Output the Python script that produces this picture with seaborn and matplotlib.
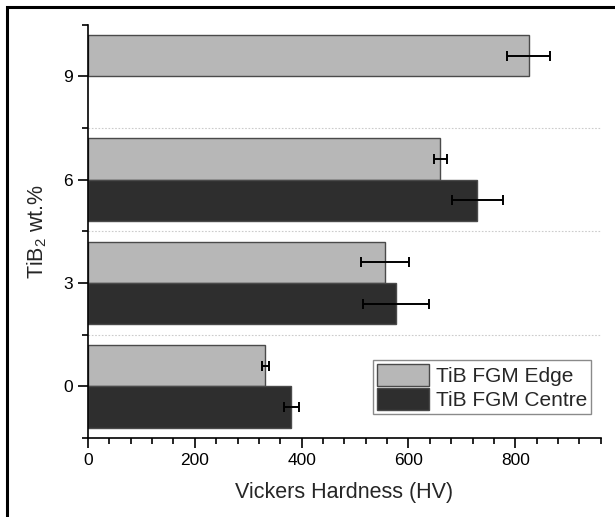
import numpy as np
import pandas as pd
import matplotlib
matplotlib.use("Agg")
import matplotlib.pyplot as plt
from matplotlib.patches import Patch, Rectangle
from matplotlib.ticker import MultipleLocator, FixedLocator
import seaborn as sns

# ---- data ----
categories = ["0", "3", "6", "9"]
edge_hv = [332, 556, 660, 825]
edge_err = [6, 45, 12, 40]
centre_hv = [381, 577, 729, np.nan]
centre_err = [14, 62, 48, np.nan]
series = ["TiB FGM Edge", "TiB FGM Centre"]
colors = ["#b7b7b7", "#2e2e2e"]

rows = []
for c, v, e in zip(categories, edge_hv, edge_err):
    rows.append({"wt": c, "HV": v, "err": e, "series": series[0]})
for c, v, e in zip(categories, centre_hv, centre_err):
    if not np.isnan(v):
        rows.append({"wt": c, "HV": v, "err": e, "series": series[1]})
df = pd.DataFrame(rows)
order = categories[::-1]

sns.set_style("ticks")
plt.rcParams["font.family"] = ["Liberation Sans", "DejaVu Sans"]
plt.rcParams["mathtext.fontset"] = "custom"
plt.rcParams["mathtext.rm"] = "Liberation Sans"

fig = plt.figure(figsize=(6.15, 5.17), dpi=100)
ax = fig.add_axes([88 / 615, 1 - 438 / 517, (600.7 - 88) / 615, (438 - 24.5) / 517])

sns.barplot(data=df, x="HV", y="wt", hue="series", order=order, hue_order=series,
            palette=colors, orient="h", width=0.8, errorbar=None, legend=False,
            edgecolor="#4a4a4a", linewidth=1.0, saturation=1, ax=ax)

# error bars from the drawn bars
err_lookup = {v: e for v, e in zip(df["HV"], df["err"])}
for p in ax.patches:
    w = p.get_width()
    if w in err_lookup:
        yc = p.get_y() + p.get_height() / 2
        ax.errorbar(w, yc, xerr=err_lookup[w], fmt="none", ecolor="black",
                    elinewidth=1.4, capsize=3.3, capthick=1.4, zorder=5)

# separators between groups
for i in range(len(order) - 1):
    ax.axhline(i + 0.5, color="#cccccc", lw=0.8, ls=(0, (1.5, 1.5)), zorder=0)

ax.set_xlim(0, 960)
ax.set_ylim(len(order) - 0.5, -0.5)
ax.xaxis.set_major_locator(MultipleLocator(200))
ax.xaxis.set_minor_locator(MultipleLocator(40))
ax.yaxis.set_minor_locator(FixedLocator(np.arange(-0.5, len(order), 1.0)))

ax.tick_params(axis="both", which="major", direction="out", length=7, width=1.2,
               labelsize=12.5, pad=4, color="black", labelcolor="black")
ax.tick_params(axis="both", which="minor", direction="out", length=4, width=1.2,
               color="black")

for s in ["top", "right"]:
    ax.spines[s].set_visible(False)
for s in ["left", "bottom"]:
    ax.spines[s].set_linewidth(1.2)
    ax.spines[s].set_color("black")

ax.set_xlabel("Vickers Hardness (HV)", fontsize=15.5, labelpad=10)
ax.set_ylabel("TiB$_2$ wt.%", fontsize=15.5, labelpad=10)

handles = [Patch(facecolor=c, edgecolor="#4a4a4a", linewidth=1.0) for c in colors]
leg = ax.legend(handles, series, loc="lower right",
                bbox_to_anchor=((591 - 88) / 512.7, (438 - 414) / 413.5),
                borderaxespad=0, fontsize=15, frameon=True, fancybox=False,
                framealpha=1, edgecolor="#8a8a8a", handlelength=2.5,
                handleheight=1.25, labelspacing=0.1, handletextpad=0.3,
                borderpad=0.2)
leg.get_frame().set_linewidth(1.0)

# outer frame
fig.add_artist(Rectangle((6.5 / 615, -0.1), 1.2, (517 - 7) / 517 + 0.1,
                         transform=fig.transFigure, fill=False, lw=2.2,
                         edgecolor="black", clip_on=False))

fig.savefig("out.png", dpi=100)
